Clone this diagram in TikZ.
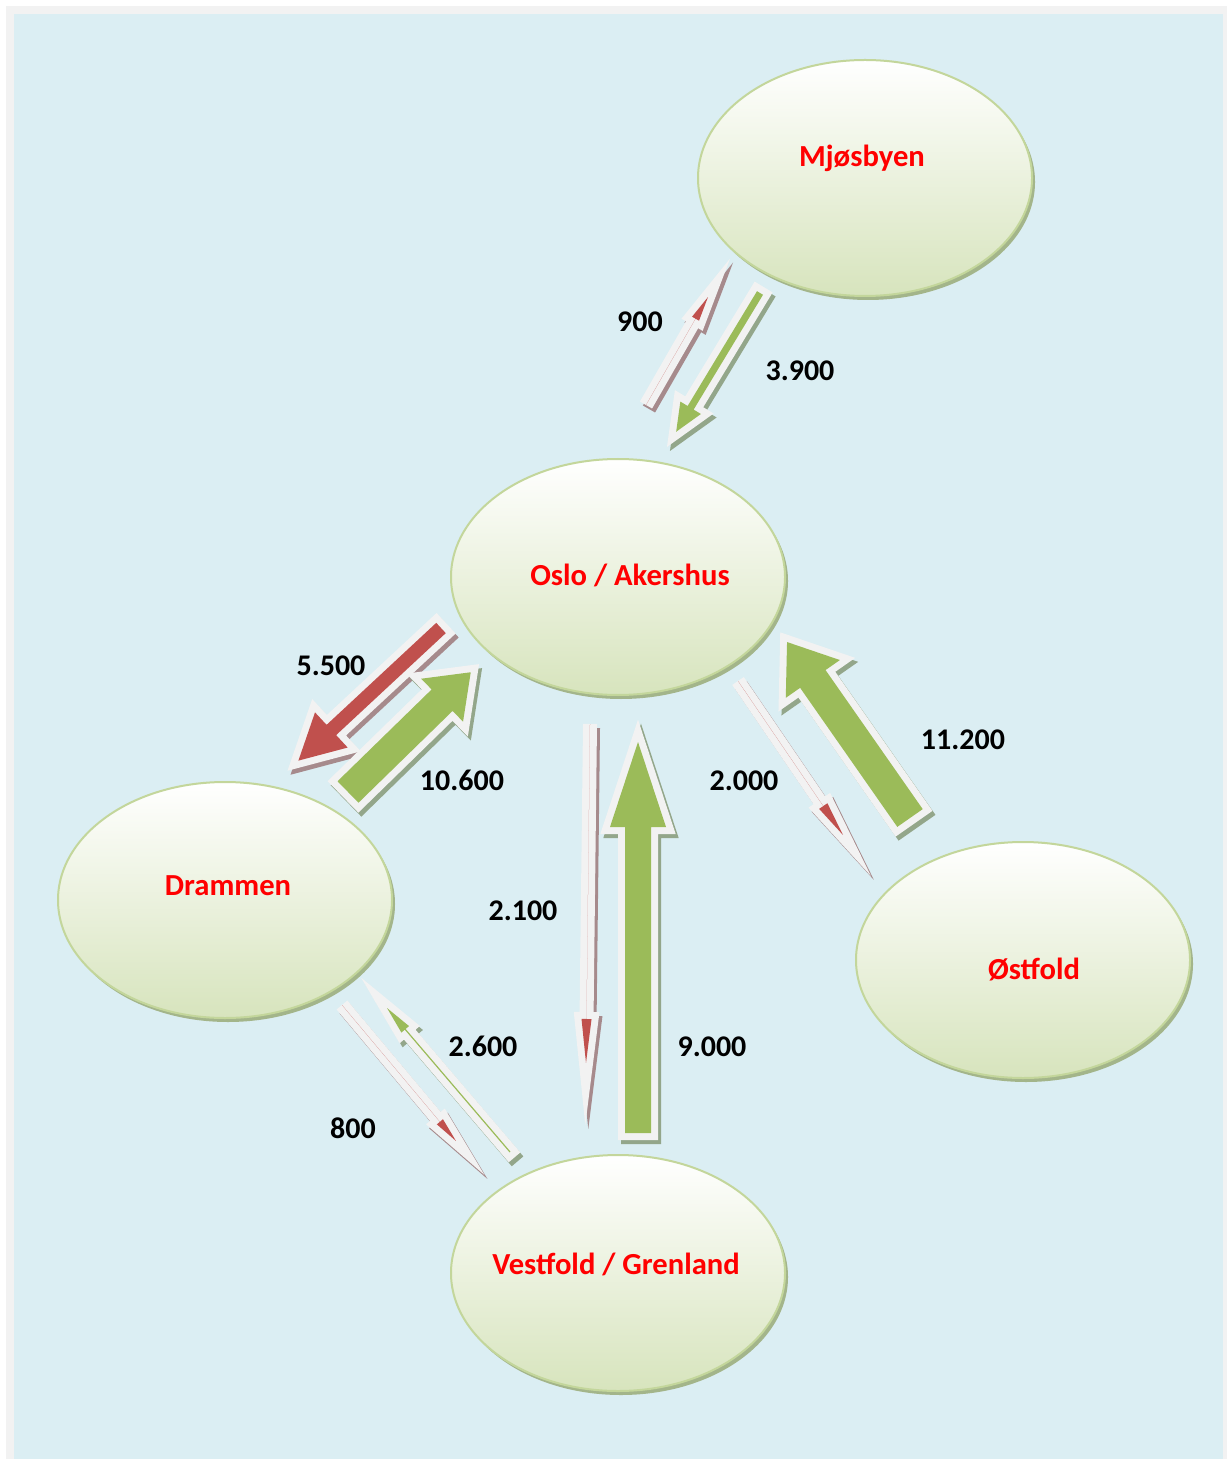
\documentclass[tikz,border=0pt]{standalone}
\usepackage{fontspec}
\setmainfont{Carlito}
\usepackage{tikz}
\usetikzlibrary{calc,shapes.geometric,shadows}

\definecolor{bgblue}{HTML}{DBEEF3}
\definecolor{framegray}{HTML}{F2F2F2}
\definecolor{ellgreen}{HTML}{D7E4BD}
\definecolor{ellrim}{HTML}{C3D69B}
\definecolor{ellshade}{HTML}{A3B58A}
\definecolor{flowgreen}{HTML}{9BBB59}
\definecolor{flowred}{HTML}{C0504D}
\definecolor{flowrim}{HTML}{F2F2F2}
\definecolor{greenshade}{HTML}{93A68A}
\definecolor{redshade}{HTML}{A68A8C}

\tikzset{
  region/.style={ellipse, draw=ellrim, line width=1pt, top color=white, bottom color=ellgreen,
    minimum width=167pt, minimum height=118pt,
    drop shadow={shadow xshift=1.5pt, shadow yshift=-2pt, fill=ellshade, opacity=1}},
  place/.style={anchor=base, text=red, font=\fontsize{15.3}{18}\selectfont\bfseries, inner sep=0pt},
  flowlbl/.style={anchor=base, font=\fontsize{15}{18}\selectfont\bfseries, inner sep=0pt},
  flowpart/.style={line width=7pt, line join=miter, miter limit=30},
}

% block arrow outline in local units: #1 half body, #2 half head, #3 head length
\newcommand{\flowpath}[3]{(0,-#1) -- ({\flowlen-#3},-#1) -- ({\flowlen-#3},-#2) -- (\flowlen,0)
  -- ({\flowlen-#3},#2) -- ({\flowlen-#3},#1) -- (0,#1) -- cycle}

% #1 tail, #2 tip, #3 half body, #4 half head, #5 head length, #6 fill, #7 shadow
\newcommand{\flowarrow}[7]{%
  \path let \p1=($(#2)-(#1)$) in \pgfextra{%
    \pgfmathparse{atan2(\y1,\x1)}\xdef\flowang{\pgfmathresult}%
    \pgfmathparse{veclen(\x1,\y1)*2}\xdef\flowlen{\pgfmathresult}};
  \begin{scope}[shift={(#1)}, xshift=1.5pt, yshift=-2pt, rotate=\flowang]
    \filldraw[flowpart, draw=#7, fill=#7] \flowpath{#3}{#4}{#5};
  \end{scope}
  \begin{scope}[shift={(#1)}, rotate=\flowang]
    \filldraw[flowpart, draw=flowrim, fill=flowrim] \flowpath{#3}{#4}{#5};
    \fill[#6] \flowpath{#3}{#4}{#5};
  \end{scope}}

\begin{document}
\begin{tikzpicture}[x=0.5pt, y=-0.5pt]
  \useasboundingbox (0,0) rectangle (1227,1459);
  \fill[framegray] (6,6) rectangle (1227,1459);
  \fill[bgblue] (14,14) rectangle (1223,1459);

  % regions
  \node[region] (mjos) at (865,178) {};
  \node[region] (oslo) at (618,577) {};
  \node[region] (dram) at (225,900) {};
  \node[region] (ost)  at (1023,960) {};
  \node[region] (vest) at (618,1273) {};

  % arrow ends
  \coordinate (osloup)   at (646,405);  \coordinate (mjosin)   at (708,297);
  \coordinate (mjosout)  at (760,293);  \coordinate (osloin1)  at (676,432);
  \coordinate (oslodl)   at (441,628);  \coordinate (dramin)   at (298,761);
  \coordinate (dramup)   at (348,792);  \coordinate (osloin2)  at (471,672);
  \coordinate (oslodown) at (590,724);  \coordinate (vestin1)  at (586,1063);
  \coordinate (vestup)   at (638,1133); \coordinate (osloin3)  at (638,742);
  \coordinate (oslodr)   at (738,681);  \coordinate (ostin)    at (843,835);
  \coordinate (ostout)   at (910,818);  \coordinate (osloin4)  at (787,642);
  \coordinate (vestout)  at (510,1152); \coordinate (dramin2)  at (387,1008);
  \coordinate (dramdown) at (342,1005); \coordinate (vestin2)  at (456,1141);

  \flowarrow{osloup}{mjosin}{0}{4}{25}{flowred}{redshade}
  \flowarrow{mjosout}{osloin1}{3.5}{12}{28}{flowgreen}{greenshade}
  \flowarrow{oslodl}{dramin}{7}{24}{45}{flowred}{redshade}
  \flowarrow{dramup}{osloin2}{15}{30}{40}{flowgreen}{greenshade}
  \flowarrow{oslodown}{vestin1}{0}{5}{44}{flowred}{redshade}
  \flowarrow{vestup}{osloin3}{13}{28}{85}{flowgreen}{greenshade}
  \flowarrow{oslodr}{ostin}{0}{5}{35}{flowred}{redshade}
  \flowarrow{ostout}{osloin4}{15.5}{33}{45}{flowgreen}{greenshade}
  \flowarrow{vestout}{dramin2}{0.6}{5}{28}{flowgreen}{greenshade}
  \flowarrow{dramdown}{vestin2}{0}{4}{25}{flowred}{redshade}

  % names
  \node[place] (mjostxt) at (862,167)  {Mjøsbyen};
  \node[place] (oslotxt) at (630,585)  {Oslo / Akershus};
  \node[place] (dramtxt) at (228,895)  {Drammen};
  \node[place] (osttxt)  at (1034,979) {Østfold};
  \node[place] (vesttxt) at (616,1274) {Vestfold / Grenland};

  % volumes
  \node[flowlbl] (v900)   at (640,332)  {900};
  \node[flowlbl] (v3900)  at (800,381)  {3.900};
  \node[flowlbl] (v5500)  at (331,675)  {5.500};
  \node[flowlbl] (v10600) at (462,790)  {10.600};
  \node[flowlbl] (v2000)  at (744,790)  {2.000};
  \node[flowlbl] (v11200) at (963,749)  {11.200};
  \node[flowlbl] (v2100)  at (523,920)  {2.100};
  \node[flowlbl] (v9000)  at (712,1056) {9.000};
  \node[flowlbl] (v2600)  at (483,1056) {2.600};
  \node[flowlbl] (v800)   at (353,1138) {800};
\end{tikzpicture}
\end{document}
